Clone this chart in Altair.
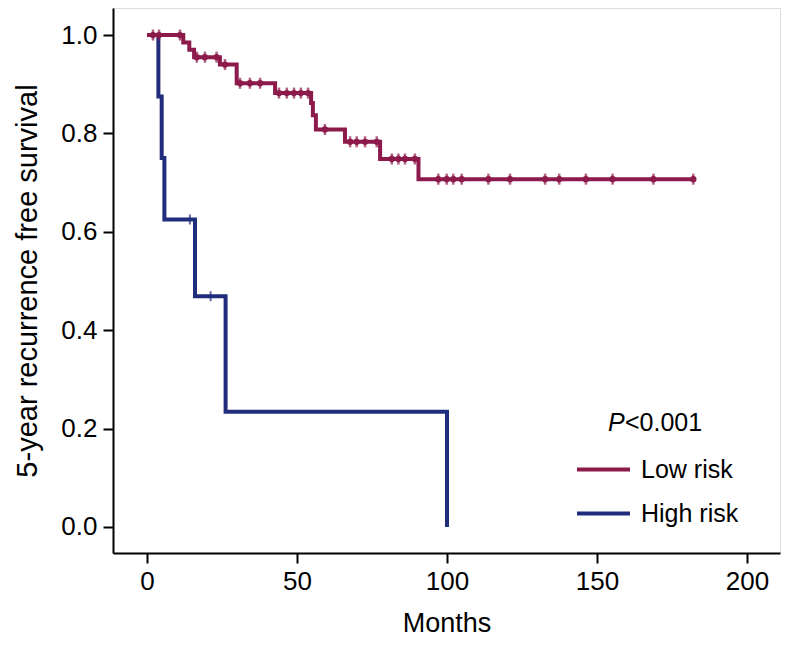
import altair as alt
import pandas as pd

# ---- data ----
low_event_times = [12.1, 14.1, 15.7, 24.3, 29.9, 42.7, 54.7, 55.3, 56.3, 66.0, 77.7, 90.5]
low_event_surv = [0.985, 0.970, 0.955, 0.940, 0.902, 0.882, 0.862, 0.837, 0.808, 0.783, 0.748, 0.707]
low_censor_times = [2.0, 4.0, 11.0, 16.6, 19.3, 23.2, 26.0, 31.0, 34.3, 37.7, 44.0, 46.6, 49.0,
                    51.3, 53.7, 59.3, 67.7, 69.9, 72.7, 76.6, 81.6, 83.8, 86.0, 89.3, 97.1, 99.9,
                    102.1, 104.9, 113.8, 121.0, 132.7, 137.4, 146.3, 155.2, 168.8, 182.1]
low_end_time = 182.1

high_event_times = [3.8, 4.9, 5.8, 16.0, 26.2, 100.0]
high_event_surv = [0.875, 0.75, 0.625, 0.469, 0.234, 0.0]
high_censor_times = [14.3, 21.2]

groups = ["Low risk", "High risk"]
colors = ["#8c1a4b", "#1f2d7c"]
x_ticks = [0, 50, 100, 150, 200]
y_ticks = [0.0, 0.2, 0.4, 0.6, 0.8, 1.0]


def surv_at(t, times, surv):
    s = 1.0
    for ti, si in zip(times, surv):
        if ti <= t:
            s = si
    return s


low_line = pd.DataFrame({
    "t": [0.0] + low_event_times + [low_end_time],
    "s": [1.0] + low_event_surv + [low_event_surv[-1]],
    "group": "Low risk",
})
high_line = pd.DataFrame({
    "t": [0.0] + high_event_times,
    "s": [1.0] + high_event_surv,
    "group": "High risk",
})
low_cens = pd.DataFrame({
    "t": low_censor_times,
    "s": [surv_at(t, low_event_times, low_event_surv) for t in low_censor_times],
})
high_cens = pd.DataFrame({
    "t": high_censor_times,
    "s": [surv_at(t, high_event_times, high_event_surv) for t in high_censor_times],
})

FONT = "Liberation Sans"

xscale = alt.Scale(domain=[-11.33, 211], nice=False, zero=False)
yscale = alt.Scale(domain=[-0.053, 1.055], nice=False, zero=False)

xaxis = alt.Axis(values=x_ticks, format="d", tickSize=10, tickWidth=2, domainWidth=2,
                 labelPadding=5, labelFontSize=26, titleFontSize=27, titlePadding=16,
                 grid=False, domainColor="black", tickColor="black",
                 labelColor="black", titleColor="black", titleFontWeight="normal")
yaxis = alt.Axis(values=y_ticks, format=".1f", tickSize=10, tickWidth=2, domainWidth=2,
                 labelPadding=6, labelFontSize=26, titleFontSize=29, titlePadding=18,
                 grid=False, domainColor="black", tickColor="black",
                 labelColor="black", titleColor="black", titleFontWeight="normal")

color = alt.Color("group:N",
                  scale=alt.Scale(domain=groups, range=colors),
                  legend=alt.Legend(title=None, orient="none", legendX=462, legendY=433,
                                    symbolType="stroke", symbolSize=2809,
                                    symbolStrokeWidth=4, labelFontSize=25,
                                    labelColor="black", labelOffset=9, rowPadding=2,
                                    labelFont=FONT))

base_x = alt.X("t:Q", scale=xscale, axis=xaxis, title="Months")
base_y = alt.Y("s:Q", scale=yscale, axis=yaxis, title="5-year recurrence free survival")

high_layer = alt.Chart(high_line).mark_line(interpolate="step-after", strokeWidth=4).encode(
    x=base_x, y=base_y, color=color)
high_c = alt.Chart(high_cens).mark_tick(orient="vertical", size=10, thickness=2,
                                        color=colors[1]).encode(x="t:Q", y="s:Q")
low_layer = alt.Chart(low_line).mark_line(interpolate="step-after", strokeWidth=4).encode(
    x=base_x, y=base_y, color=color)
low_c_tick = alt.Chart(low_cens).mark_tick(orient="vertical", size=11, thickness=2.5,
                                           color=colors[0]).encode(x="t:Q", y="s:Q")
low_c_pt = alt.Chart(low_cens).mark_point(filled=True, size=40, opacity=1,
                                          color=colors[0]).encode(x="t:Q", y="s:Q")

p_text = pd.DataFrame({"a": [0]})
p_italic = alt.Chart(p_text).mark_text(text="P", font=FONT, fontSize=25, fontStyle="italic",
                                       align="left", baseline="alphabetic", color="black").encode(
    x=alt.value(495), y=alt.value(423))
p_rest = alt.Chart(p_text).mark_text(text="<0.001", font=FONT, fontSize=25,
                                     align="left", baseline="alphabetic", color="black").encode(
    x=alt.value(512), y=alt.value(423))

chart = alt.layer(high_layer, high_c, low_layer, low_c_tick, low_c_pt, p_italic, p_rest).properties(
    width=667, height=545,
    autosize=alt.AutoSizeParams(type="none"),
    padding={"left": 105, "top": 0, "right": 4, "bottom": 85},
).configure_view(stroke=None).configure(font=FONT)

chart.save("out.html", embed_options={"renderer": "svg", "actions": False})
